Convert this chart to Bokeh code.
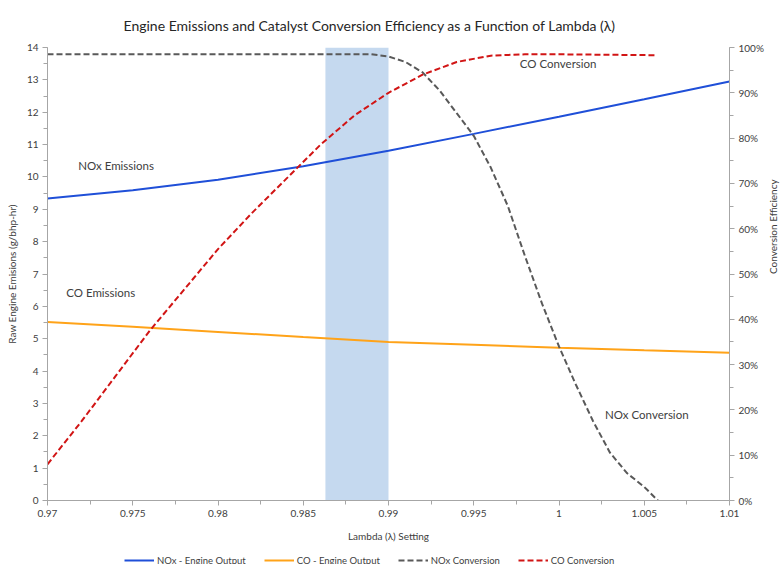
import math
from bokeh.plotting import figure
from bokeh.layouts import column
from bokeh.models import (Range1d, LinearAxis, FixedTicker, PrintfTickFormatter,
                          Legend, LegendItem)
from bokeh.core.properties import value
from bokeh.embed import file_html
from bokeh.resources import INLINE

# ---------------- data ----------------
lam_eng = [0.970, 0.975, 0.980, 0.985, 0.990, 0.995, 1.000, 1.005, 1.010]
nox_engine = [9.33, 9.59, 9.91, 10.33, 10.81, 11.33, 11.86, 12.40, 12.95]
co_engine = [5.52, 5.37, 5.21, 5.05, 4.90, 4.81, 4.72, 4.64, 4.57]

lam_nox_conv = [0.970, 0.980, 0.989, 0.990, 0.991, 0.992, 0.993, 0.994, 0.995,
                0.996, 0.997, 0.998, 0.999, 1.000, 1.001, 1.002, 1.003,
                1.004, 1.005, 1.0058]
nox_conversion = [98.5, 98.5, 98.5, 98.0, 96.8, 94.5, 90.5, 85.5, 80.5,
                  73.5, 65.0, 54.0, 43.5, 34.0, 25.5, 17.5, 10.5,
                  6.0, 3.0, 0.0]

lam_co_conv = [0.970, 0.972, 0.974, 0.976, 0.978, 0.980, 0.982, 0.984, 0.986,
               0.988, 0.990, 0.992, 0.994, 0.996, 0.998, 1.000, 1.0056]
co_conversion = [8.0, 17.5, 27.5, 37.5, 46.5, 55.5, 63.5, 71.0, 78.5,
                 85.0, 90.0, 94.0, 96.8, 98.2, 98.5, 98.5, 98.3]

band_left = [0.9863]
band_right = [0.9900]
band_bottom = [0]
band_top = [14]

x_ticks = [0.97, 0.975, 0.98, 0.985, 0.99, 0.995, 1.0, 1.005, 1.01]
x_tick_labels = ["0.97", "0.975", "0.98", "0.985", "0.99", "0.995", "1", "1.005", "1.01"]
x_minor = [0.97 + 0.0025 * i for i in range(17)]
y_ticks = list(range(0, 15))
y_minor = [0.5 * i for i in range(29)]
pct_ticks = list(range(0, 101, 10))
pct_minor = list(range(0, 101, 5))

ann_text = ["NOx Emissions", "CO Emissions"]
ann_x = [0.9718, 0.9711]
ann_y = [10.35, 6.43]
ann2_text = ["CO Conversion", "NOx Conversion"]
ann2_x = [0.9977, 1.0027]
ann2_y = [96.5, 19.0]

series_names = ["NOx - Engine Output", "CO - Engine Output", "NOx Conversion", "CO Conversion"]
series_colors = ["#1f4fd8", "#ffa319", "#595959", "#d11515"]
series_dash = ["solid", "solid", "6 3", "6 3"]
series_x = [lam_eng, lam_eng, lam_nox_conv, lam_co_conv]
series_y = [nox_engine, co_engine, nox_conversion, co_conversion]

FONT = "Lato"
TXT = "#404040"
AXC = "#a6a6a6"

p = figure(frame_width=682, frame_height=453, output_backend="svg", toolbar_location=None,
           x_range=Range1d(0.97, 1.01), y_range=Range1d(0, 14),
           min_border_left=47, min_border_right=54, min_border_top=45,
           min_border_bottom=50)
p.extra_y_ranges = {"pct": Range1d(0, 100)}
p.xgrid.visible = False
p.ygrid.visible = False
p.outline_line_color = None
p.background_fill_color = "white"
p.border_fill_color = "white"

p.title.text = "Engine Emissions and Catalyst Conversion Efficiency as a Function of Lambda (\u03bb)"
p.title.align = "left"
p.title.offset = 76
p.title.text_font = FONT
p.title.text_font_size = "14px"
p.title.text_font_style = "normal"
p.title.text_color = "#262626"
p.title.standoff = 28

# band
p.quad(left=band_left, right=band_right, bottom=band_bottom, top=band_top,
       fill_color="#c5d9ef", line_color=None)

p.line(lam_eng, nox_engine, line_color=series_colors[0], line_width=2)
p.line(lam_eng, co_engine, line_color=series_colors[1], line_width=2)
p.line(lam_nox_conv, nox_conversion, y_range_name="pct", line_color=series_colors[2],
       line_width=2, line_dash=series_dash[2])
p.line(lam_co_conv, co_conversion, y_range_name="pct", line_color=series_colors[3],
       line_width=2, line_dash=series_dash[3])

p.text(x=ann_x, y=ann_y, text=ann_text, text_font=value(FONT), text_font_size="11.5px",
       text_color=TXT, text_baseline="middle", text_align="left")
p.text(x=ann2_x, y=ann2_y, text=ann2_text, y_range_name="pct", text_font=value(FONT),
       text_font_size="11.5px", text_color=TXT, text_baseline="middle", text_align="left")

def style_axis(ax):
    ax.axis_line_color = AXC
    ax.major_tick_line_color = AXC
    ax.minor_tick_line_color = AXC
    ax.major_tick_out = 5
    ax.major_tick_in = 0
    ax.minor_tick_out = 4
    ax.minor_tick_in = 0
    ax.major_label_text_font = FONT
    ax.major_label_text_font_size = "10px"
    ax.major_label_text_color = TXT
    ax.axis_label_text_font = FONT
    ax.axis_label_text_font_size = "10px"
    ax.axis_label_text_font_style = "normal"
    ax.axis_label_text_color = TXT
    ax.major_label_standoff = 4
    ax.axis_label_standoff = 6

xa = p.xaxis[0]
xa.ticker = FixedTicker(ticks=x_ticks, minor_ticks=x_minor)
xa.major_label_overrides = {t: l for t, l in zip(x_ticks, x_tick_labels)}
xa.axis_label = "Lambda (\u03bb) Setting"
style_axis(xa)
xa.axis_label_standoff = 10

ya = p.yaxis[0]
ya.ticker = FixedTicker(ticks=y_ticks, minor_ticks=y_minor)
ya.axis_label = "Raw Engine Emisions (g/bhp-hr)"
style_axis(ya)

ra = LinearAxis(y_range_name="pct",
                ticker=FixedTicker(ticks=pct_ticks, minor_ticks=pct_minor),
                formatter=PrintfTickFormatter(format="%d%%"),
                axis_label="Conversion Efficiency")
style_axis(ra)
ra.axis_label_orientation = math.pi / 2
p.add_layout(ra, "right")

# ---- legend strip (separate small figure under the chart) ----
# series are drawn again here but fall outside this strip's ranges, so only
# their legend swatches are visible
lg = figure(width=783, height=16, output_backend="svg", toolbar_location=None,
            x_range=Range1d(10, 11), y_range=Range1d(500, 501),
            min_border_left=0, min_border_right=0, min_border_top=0,
            min_border_bottom=0)
lg.axis.visible = False
lg.xgrid.visible = False
lg.ygrid.visible = False
lg.outline_line_color = None
lg.border_fill_color = "white"
items = []
for name, col, dash, sx, sy in zip(series_names, series_colors, series_dash,
                                   series_x, series_y):
    r = lg.line(x=sx, y=sy, line_color=col, line_width=2, line_dash=dash)
    items.append(LegendItem(label=name, renderers=[r]))
legend = Legend(items=items, orientation="horizontal", location=(77, 0),
                border_line_color=None, background_fill_alpha=0,
                label_text_font=FONT, label_text_font_size="9.5px",
                label_height=12, label_text_baseline="middle",
                label_text_color=TXT, glyph_width=30, glyph_height=10,
                spacing=18, label_standoff=3, padding=2, margin=0)
lg.add_layout(legend)

layout = column(p, lg, spacing=0)
open("out.html", "w").write(file_html(layout, INLINE))
